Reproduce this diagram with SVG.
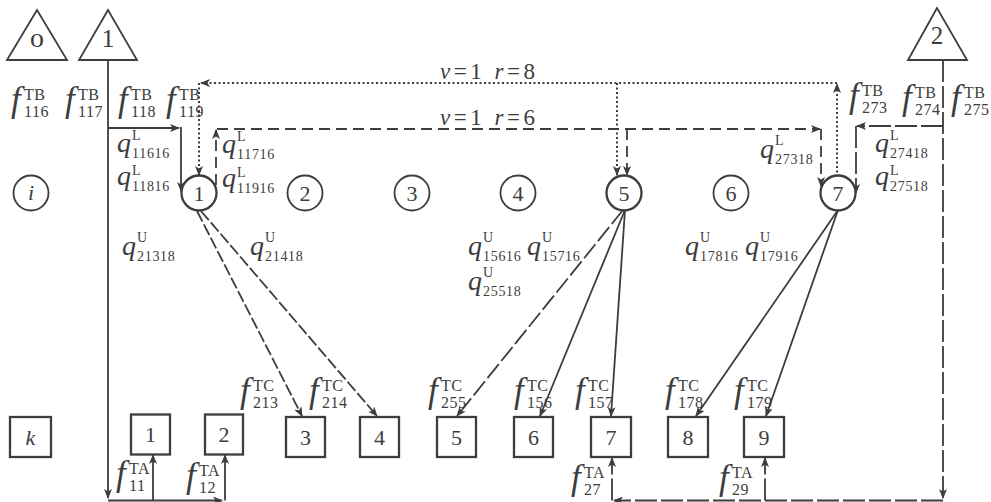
<svg xmlns="http://www.w3.org/2000/svg" width="991" height="502" viewBox="0 0 991 502">
<defs>
<marker id="ah" markerUnits="userSpaceOnUse" markerWidth="10" markerHeight="8" viewBox="0 0 10 8" refX="9" refY="4" orient="auto"><path d="M0,0 L10,4 L0,8 L2.5,4 z" fill="#3d3d3d"/></marker>
</defs>
<style>
.c{fill:none;stroke:#3d3d3d;stroke-width:1.8}
.dot{stroke-dasharray:2 2.5;stroke-width:2}
.dsh{stroke-dasharray:11 6}
.dd{stroke-dasharray:22 4}
.dg{stroke-dasharray:12 3}
.d5{stroke-dasharray:18 4}
.a{marker-end:url(#ah)}
.sh{fill:#fff;stroke:#3d3d3d;stroke-width:1.8}
.bold{stroke-width:2.3}
text{font-family:"Liberation Serif","Times New Roman",serif;fill:#3d3d3d}
.f{font-size:35px;font-style:italic}
.q{font-size:28px;font-style:italic}
.s{font-size:16px;letter-spacing:0.5px}
.t{font-size:14px;letter-spacing:0.7px}
.n{font-size:22px;text-anchor:middle}
.it{font-style:italic}
.lb{font-size:23px}
</style>

<g id="connectors">
<path class="c a" d="M108,60 V498"/>
<path class="c a" d="M108,500.5 H222"/>
<path class="c a" d="M153,500.5 V455"/>
<path class="c a" d="M225,500.5 V455"/>
<path class="c a" d="M108,128 H179"/>
<path class="c a" d="M181,127 V191"/>
<path class="c dot a" d="M837,177 V84"/>
<path class="c dot a" d="M837,83 H201"/>
<path class="c dot a" d="M199,83 V175"/>
<path class="c dot a" d="M617,83 V175"/>
<path class="c dsh a" d="M216,185 V130"/>
<path class="c dsh a" d="M217,129 H820"/>
<path class="c dsh a" d="M627,129 V175"/>
<path class="c dsh a" d="M821,129 V186"/>
<path class="c dd a" d="M943,60 V498"/>
<path class="c dd a" d="M943,126 H857"/>
<path class="c dd a" d="M856,126 V193"/>
<path class="c dd a" d="M943,500.5 H614"/>
<path class="c dd a" d="M612,500.5 V458"/>
<path class="c dd a" d="M765,500.5 V458"/>
<path class="c dg a" d="M197,211 L302,416"/>
<path class="c dg a" d="M201,211 L377,416"/>
<path class="c d5 a" d="M623,210 L457,416"/>
<path class="c a" d="M625,210 L540,416"/>
<path class="c a" d="M625,210 L611,416"/>
<path class="c a" d="M838,210 L696,416"/>
<path class="c a" d="M838,210 L766,416"/>
</g>

<g id="tri-o"><polygon class="sh" points="37,10 7,60 67,60"/><text class="n" x="37" y="47" style="font-size:28px">o</text></g>
<g id="tri-1"><polygon class="sh" points="108,10 79,60 137,60"/><text class="n" x="108" y="47" style="font-size:26px">1</text></g>
<g id="tri-2"><polygon class="sh" points="937,8 908,60 967,60"/><text class="n" x="937" y="44" style="font-size:25px">2</text></g>

<g id="node-i"><circle class="sh" cx="31" cy="193" r="17.5"/><text class="n it" x="31" y="200">i</text></g>
<g id="node-c1"><circle class="sh bold" cx="199" cy="193" r="17.5"/><text class="n" x="199" y="200.5">1</text></g>
<g id="node-c2"><circle class="sh" cx="305" cy="193" r="17.5"/><text class="n" x="305" y="200.5">2</text></g>
<g id="node-c3"><circle class="sh" cx="412" cy="193" r="17.5"/><text class="n" x="412" y="200.5">3</text></g>
<g id="node-c4"><circle class="sh" cx="518" cy="193" r="17.5"/><text class="n" x="518" y="200.5">4</text></g>
<g id="node-c5"><circle class="sh bold" cx="624" cy="193" r="17.5"/><text class="n" x="624" y="200.5">5</text></g>
<g id="node-c6"><circle class="sh" cx="731" cy="193" r="17.5"/><text class="n" x="731" y="200.5">6</text></g>
<g id="node-c7"><circle class="sh bold" cx="838" cy="193" r="17.5"/><text class="n" x="838" y="200.5">7</text></g>

<g id="box-k"><rect class="sh bold" x="10" y="417" width="41" height="40"/><text class="n it" x="30.5" y="445">k</text></g>
<g id="box-1"><rect class="sh bold" x="131" y="414.5" width="39" height="40"/><text class="n" x="150.5" y="442">1</text></g>
<g id="box-2"><rect class="sh bold" x="205" y="414.5" width="38" height="40"/><text class="n" x="224" y="442">2</text></g>
<g id="box-3"><rect class="sh bold" x="286" y="417" width="39" height="40"/><text class="n" x="305.5" y="445">3</text></g>
<g id="box-4"><rect class="sh bold" x="360" y="417" width="39" height="40"/><text class="n" x="379.5" y="445">4</text></g>
<g id="box-5"><rect class="sh bold" x="437" y="417" width="39" height="40"/><text class="n" x="456.5" y="445">5</text></g>
<g id="box-6"><rect class="sh bold" x="514" y="417" width="39" height="40"/><text class="n" x="533.5" y="445">6</text></g>
<g id="box-7"><rect class="sh bold" x="591" y="417" width="40" height="40"/><text class="n" x="611" y="445">7</text></g>
<g id="box-8"><rect class="sh bold" x="668" y="417" width="40" height="40"/><text class="n" x="688" y="445">8</text></g>
<g id="box-9"><rect class="sh bold" x="744" y="417" width="40" height="40"/><text class="n" x="764" y="445">9</text></g>

<g id="labels">
<text class="lb" x="440" y="79" textLength="95" lengthAdjust="spacing"><tspan class="it">ν</tspan>=1  <tspan class="it">r</tspan>=8</text>
<text class="lb" x="440" y="125" textLength="95" lengthAdjust="spacing"><tspan class="it">ν</tspan>=1  <tspan class="it">r</tspan>=6</text>

<text class="f" x="11" y="111">f</text><text class="s" x="24" y="100">TB</text><text class="s" x="24" y="117">116</text>
<text class="f" x="65" y="111">f</text><text class="s" x="78" y="100">TB</text><text class="s" x="78" y="117">117</text>
<text class="f" x="118" y="111">f</text><text class="s" x="131" y="100">TB</text><text class="s" x="131" y="117">118</text>
<text class="f" x="166" y="111">f</text><text class="s" x="179" y="100">TB</text><text class="s" x="179" y="117">119</text>
<text class="f" x="849" y="107">f</text><text class="s" x="862" y="96">TB</text><text class="s" x="862" y="113">273</text>
<text class="f" x="902" y="109">f</text><text class="s" x="915" y="98">TB</text><text class="s" x="915" y="115">274</text>
<text class="f" x="951" y="109">f</text><text class="s" x="964" y="98">TB</text><text class="s" x="964" y="115">275</text>

<text class="f" x="240" y="402">f</text><text class="s" x="253" y="391">TC</text><text class="s" x="253" y="408">213</text>
<text class="f" x="309" y="402">f</text><text class="s" x="322" y="391">TC</text><text class="s" x="322" y="408">214</text>
<text class="f" x="428" y="402">f</text><text class="s" x="441" y="391">TC</text><text class="s" x="441" y="408">255</text>
<text class="f" x="514" y="402">f</text><text class="s" x="527" y="391">TC</text><text class="s" x="527" y="408">156</text>
<text class="f" x="575" y="402">f</text><text class="s" x="588" y="391">TC</text><text class="s" x="588" y="408">157</text>
<text class="f" x="665" y="402">f</text><text class="s" x="678" y="391">TC</text><text class="s" x="678" y="408">178</text>
<text class="f" x="734" y="402">f</text><text class="s" x="747" y="391">TC</text><text class="s" x="747" y="408">179</text>

<text class="f" x="116" y="485">f</text><text class="s" x="129" y="474">TA</text><text class="s" x="129" y="491">11</text>
<text class="f" x="186" y="487">f</text><text class="s" x="199" y="476">TA</text><text class="s" x="199" y="493">12</text>
<text class="f" x="571" y="489">f</text><text class="s" x="584" y="478">TA</text><text class="s" x="584" y="495">27</text>
<text class="f" x="719" y="489">f</text><text class="s" x="732" y="478">TA</text><text class="s" x="732" y="495">29</text>

<text class="q" x="117" y="152">q</text><text class="t" x="132" y="140">L</text><text class="t" x="132" y="158">11616</text>
<text class="q" x="117" y="185">q</text><text class="t" x="132" y="175">L</text><text class="t" x="132" y="191">11816</text>
<text class="q" x="222" y="153">q</text><text class="t" x="237" y="141">L</text><text class="t" x="237" y="159">11716</text>
<text class="q" x="222" y="187">q</text><text class="t" x="237" y="177">L</text><text class="t" x="237" y="193">11916</text>
<text class="q" x="760" y="158">q</text><text class="t" x="775" y="145">L</text><text class="t" x="775" y="164">27318</text>
<text class="q" x="875" y="152">q</text><text class="t" x="890" y="140">L</text><text class="t" x="890" y="158">27418</text>
<text class="q" x="875" y="185">q</text><text class="t" x="890" y="175">L</text><text class="t" x="890" y="191">27518</text>

<text class="q" x="122" y="255">q</text><text class="t" x="137" y="242">U</text><text class="t" x="137" y="261">21318</text>
<text class="q" x="250" y="255">q</text><text class="t" x="265" y="242">U</text><text class="t" x="265" y="261">21418</text>
<text class="q" x="468" y="255">q</text><text class="t" x="483" y="242">U</text><text class="t" x="483" y="261">15616</text>
<text class="q" x="527" y="255">q</text><text class="t" x="542" y="242">U</text><text class="t" x="542" y="261">15716</text>
<text class="q" x="468" y="290">q</text><text class="t" x="483" y="277">U</text><text class="t" x="483" y="296">25518</text>
<text class="q" x="685" y="255">q</text><text class="t" x="700" y="242">U</text><text class="t" x="700" y="261">17816</text>
<text class="q" x="745" y="255">q</text><text class="t" x="760" y="242">U</text><text class="t" x="760" y="261">17916</text>
</g>
</svg>
